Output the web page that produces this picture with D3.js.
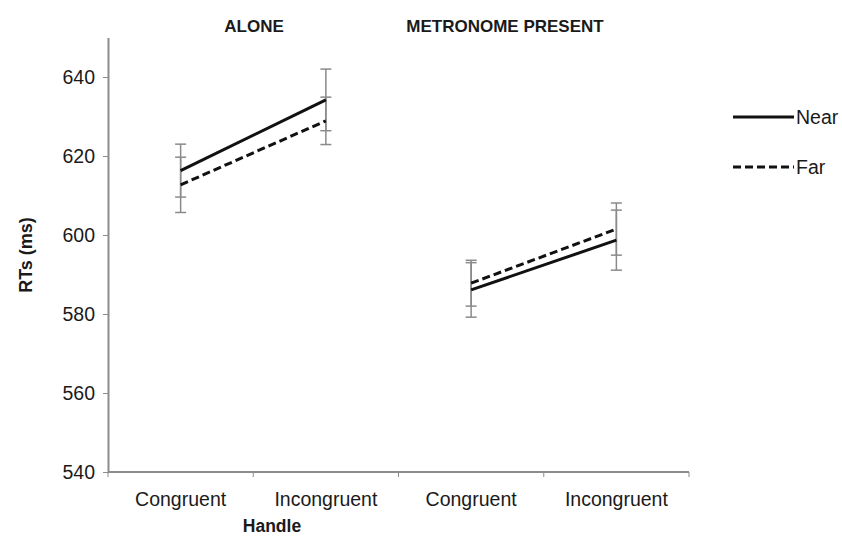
<!DOCTYPE html>
<html>
<head>
<meta charset="utf-8">
<script src="https://cdn.jsdelivr.net/npm/d3@7"></script>
<style>
  body { margin: 0; background: #fff; }
  svg text { font-family: "Liberation Sans", Arial, sans-serif; fill: #1a1a1a; }
</style>
</head>
<body>
<svg id="chart" width="842" height="551"></svg>
<script>
// Conditions along the x axis (two blocks of congruent / incongruent handle)
const categories = ["Congruent", "Incongruent", "Congruent", "Incongruent"];
const blocks = ["ALONE", "METRONOME PRESENT"];
const yTicks = [540, 560, 580, 600, 620, 640];

// Mean RTs (ms) and error-bar half-widths per condition
const nearMeans = [616.3, 634.2, 586.1, 598.7];
const nearErr   = [6.7, 7.8, 6.9, 7.6];
const farMeans  = [612.7, 628.9, 587.8, 601.5];
const farErr    = [7.0, 6.0, 5.8, 6.6];

const series = [
  { name: "Near", means: nearMeans, err: nearErr, dash: null },
  { name: "Far",  means: farMeans,  err: farErr,  dash: "8,4" }
];

const svg = d3.select("#chart");
const plotLeft = 108, plotRight = 689, plotTop = 37.5, plotBottom = 472;

const x = d3.scaleBand().domain(d3.range(categories.length)).range([plotLeft, plotRight]);
const y = d3.scaleLinear().domain([540, 650]).range([plotBottom, plotTop]);
const axisColor = "#8c8c8c";
const fontStack = "'Liberation Sans', Arial, sans-serif";

// y axis
const yAxis = svg.append("g").attr("transform", `translate(${plotLeft},0)`)
  .call(d3.axisLeft(y).tickValues(yTicks).tickSize(5).tickSizeOuter(0).tickPadding(8));
yAxis.select(".domain").attr("stroke", axisColor).attr("stroke-width", 2);
yAxis.selectAll(".tick line").attr("stroke", axisColor).attr("stroke-width", 1);
yAxis.selectAll(".tick text").attr("font-size", 19.5)
  .style("font-family", fontStack).attr("fill", "#1a1a1a");

// x axis with category labels centered in bands, ticks at band boundaries
const xAxisG = svg.append("g").attr("transform", `translate(0,${plotBottom})`);
xAxisG.append("line").attr("x1", plotLeft).attr("x2", plotRight).attr("y1", 0).attr("y2", 0)
  .attr("stroke", axisColor).attr("stroke-width", 2);
xAxisG.selectAll("line.tk").data(d3.range(categories.length + 1)).join("line")
  .attr("class", "tk")
  .attr("x1", i => plotLeft + i * x.step()).attr("x2", i => plotLeft + i * x.step())
  .attr("y1", 0).attr("y2", 5)
  .attr("stroke", axisColor).attr("stroke-width", 1);
xAxisG.selectAll("text").data(categories).join("text")
  .attr("x", (d, i) => x(i) + x.bandwidth() / 2)
  .attr("y", 34)
  .attr("text-anchor", "middle")
  .attr("font-size", 19.5)
  .text(d => d);

// Block titles
const titleX = [254, 505];
svg.selectAll("text.block").data(blocks).join("text")
  .attr("class", "block")
  .attr("x", (d, i) => titleX[i])
  .attr("y", 32)
  .attr("text-anchor", "middle")
  .attr("font-size", 17)
  .attr("font-weight", "bold")
  .text(d => d);

// Axis titles
svg.append("text").attr("x", 272).attr("y", 532).attr("text-anchor", "middle")
  .attr("font-size", 17.5).attr("font-weight", "bold").text("Handle");
svg.append("text").attr("transform", "translate(32,255) rotate(-90)")
  .attr("text-anchor", "middle").attr("font-size", 18).attr("font-weight", "bold").text("RTs (ms)");

const cx = i => x(i) + x.bandwidth() / 2;

// Error bars
series.forEach(s => {
  const g = svg.append("g");
  s.means.forEach((m, i) => {
    const lo = y(m - s.err[i]), hi = y(m + s.err[i]);
    g.append("line").attr("x1", cx(i)).attr("x2", cx(i)).attr("y1", lo).attr("y2", hi)
      .attr("stroke", "#8a8a8a").attr("stroke-width", 1.5);
    [lo, hi].forEach(yy => g.append("line")
      .attr("x1", cx(i) - 5.5).attr("x2", cx(i) + 5.5).attr("y1", yy).attr("y2", yy)
      .attr("stroke", "#8a8a8a").attr("stroke-width", 1.5));
  });
});

// Lines: one segment per block
const line = d3.line().x(d => cx(d.i)).y(d => y(d.v));
series.forEach(s => {
  [[0, 1], [2, 3]].forEach(pair => {
    svg.append("path")
      .datum(pair.map(i => ({ i, v: s.means[i] })))
      .attr("d", line)
      .attr("fill", "none")
      .attr("stroke", "#111")
      .attr("stroke-width", 3)
      .attr("stroke-dasharray", s.dash);
  });
});

// Legend
const leg = svg.append("g");
series.forEach((s, k) => {
  const yy = 117 + k * 50;
  leg.append("line").attr("x1", 733).attr("x2", 794).attr("y1", yy).attr("y2", yy)
    .attr("stroke", "#111").attr("stroke-width", 3).attr("stroke-dasharray", s.dash);
  leg.append("text").attr("x", 796).attr("y", yy + 7).attr("font-size", 19.5).text(s.name);
});
</script>
</body>
</html>
